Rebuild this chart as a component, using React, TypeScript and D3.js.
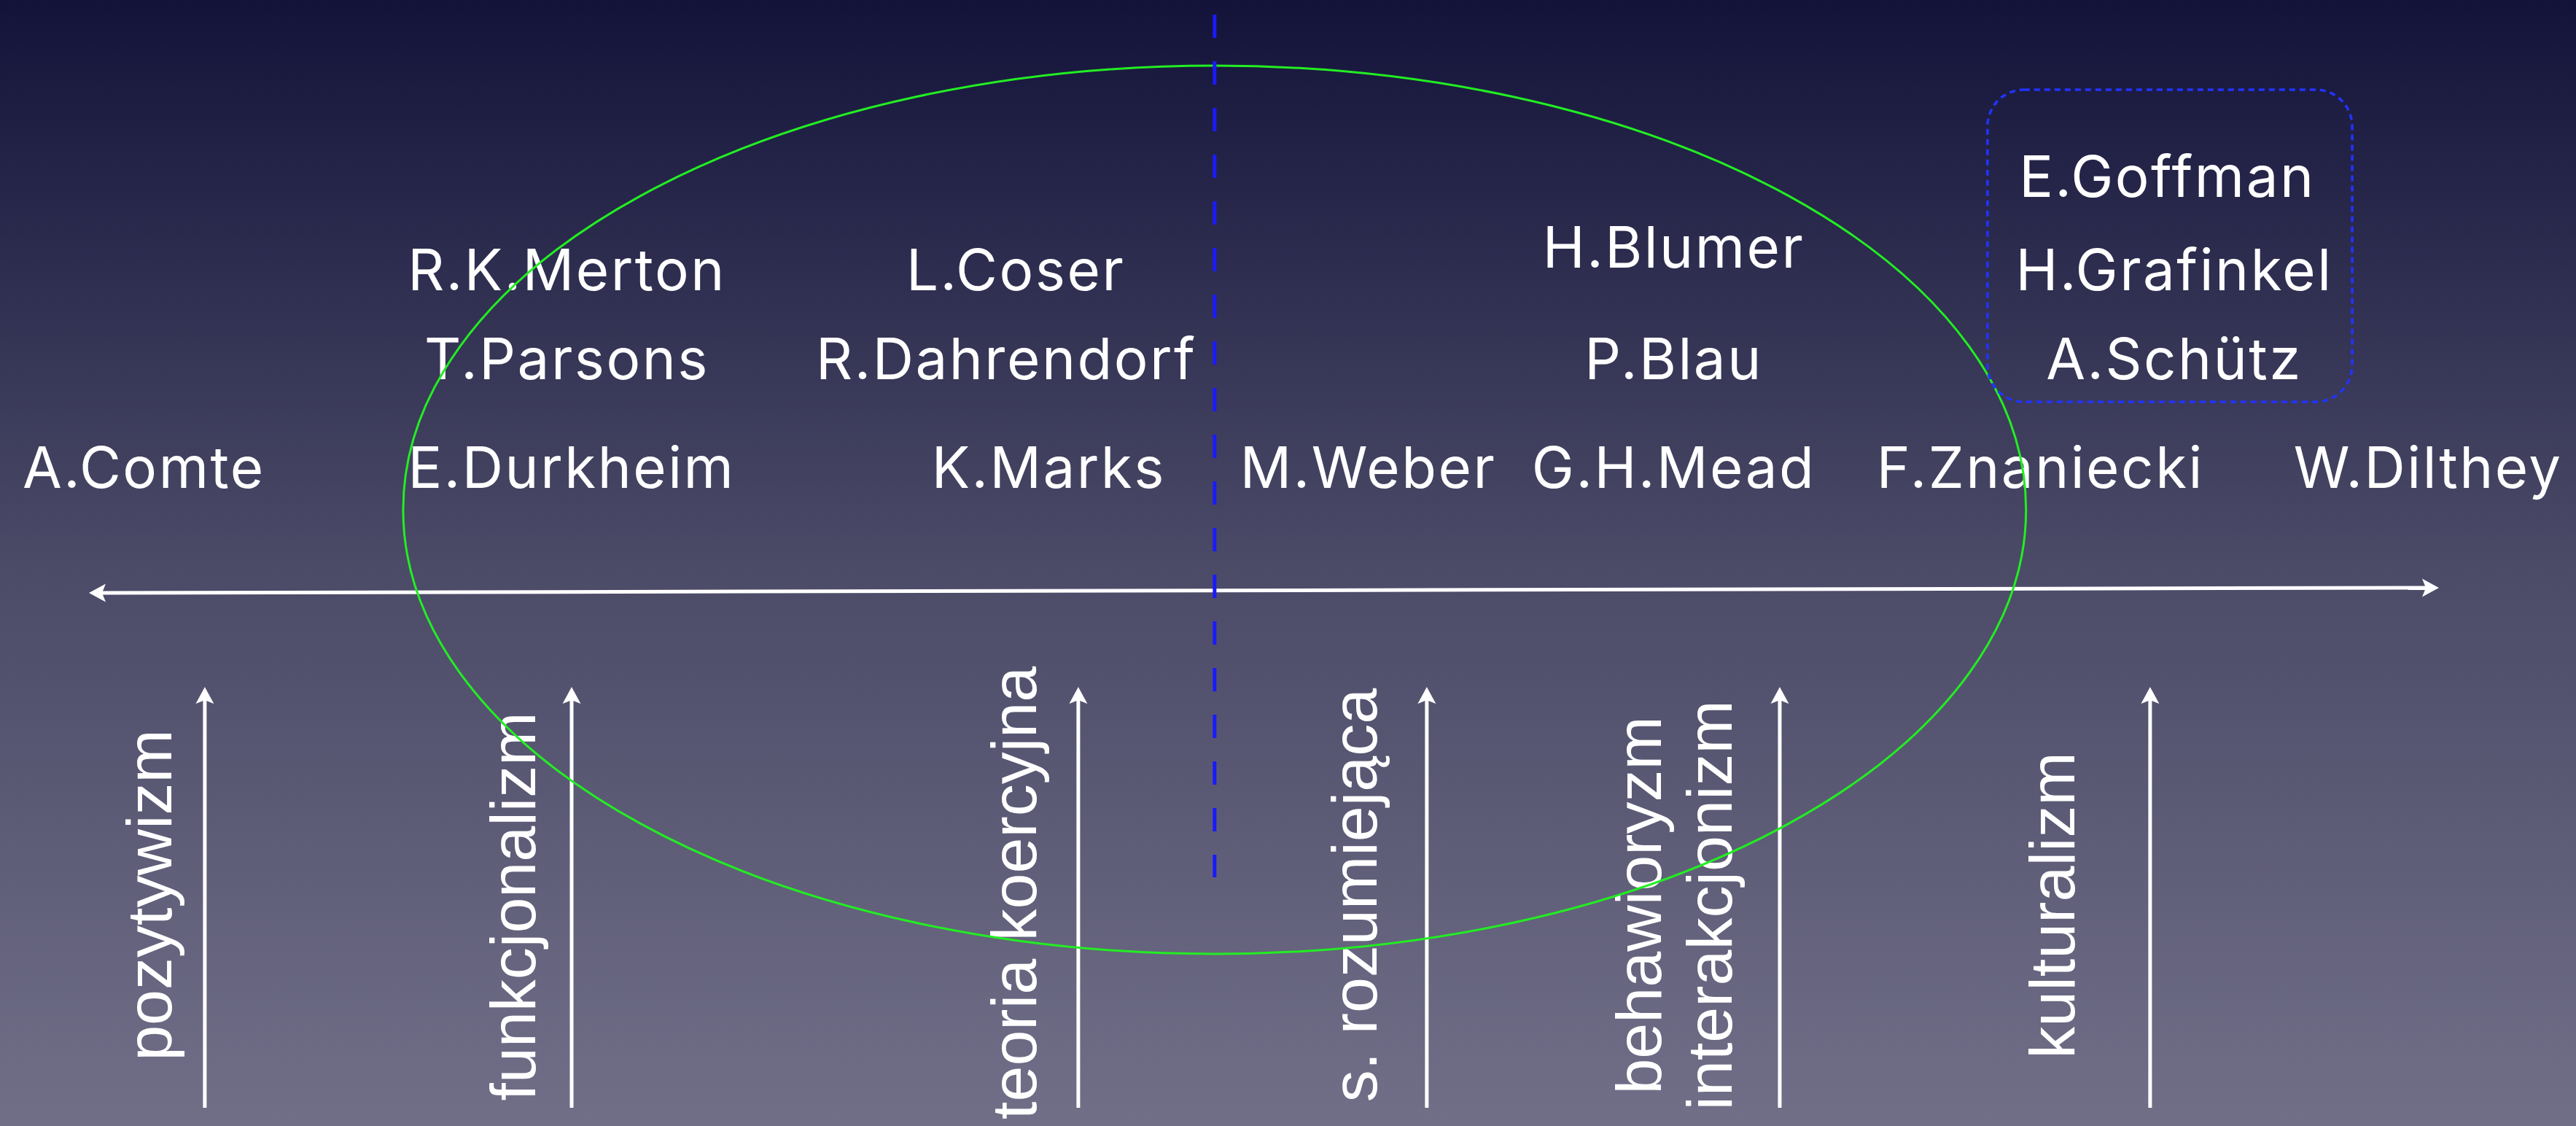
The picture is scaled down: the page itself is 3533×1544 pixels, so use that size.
import React, { useEffect } from "react";
import * as d3 from "d3";

const W = 3533;
const H = 1544;

// Sociologists: name, position along the spectrum axis (0..100), height level (0..100 of chart height)
const names = ["A.Comte", "E.Durkheim", "R.K.Merton", "T.Parsons", "L.Coser", "R.Dahrendorf", "K.Marks", "M.Weber", "G.H.Mead", "P.Blau", "H.Blumer", "F.Znaniecki", "W.Dilthey", "A.Schütz", "H.Grafinkel", "E.Goffman"];
const namePos = [2.3, 20.5, 20.3, 20.3, 39.4, 39.0, 40.8, 54.4, 67.4, 67.4, 67.4, 83.0, 99.5, 88.7, 88.7, 88.4];
const nameLevel = [56.7, 56.7, 74.2, 66.3, 74.2, 66.3, 56.7, 56.7, 56.7, 66.3, 76.2, 56.7, 56.7, 66.3, 74.2, 82.5];

// Schools (rotated labels)
const schools = ["pozytywizm", "funkcjonalizm", "teoria koercyjna", "s. rozumiejąca", "behawioryzm", "interakcjonizm", "kulturalizm"];
const schoolPos = [3.5, 19.0, 40.3, 54.8, 66.9, 69.9, 84.5];
const schoolLevel = [20.5, 19.5, 20.7, 20.5, 19.6, 19.6, 19.6];

// Upward arrows
const arrowPos = [4.93, 20.54, 42.1, 56.93, 71.95, 87.71];

export default function App() {
  useEffect(() => {
    document.body.style.margin = "0";
    document.body.style.overflow = "hidden";
  }, []);

  const x = d3.scaleLinear().domain([0, 100]).range([122, 3345]);
  const y = d3.scaleLinear().domain([0, 100]).range([H, 0]);

  // axis endpoints
  const axL = { x: x(0), y: 813 };
  const axR = { x: x(100), y: 806 };
  const ang = Math.atan2(axR.y - axL.y, axR.x - axL.x) * 180 / Math.PI;

  const head = "M0,0 L-23,-12.5 L-18,0 L-23,12.5 Z";

  const arrowTop = 942;
  const arrowBottom = 1519;

  const ellCx = x(47.9);
  const ellRx = x(47.9 + 34.53) - x(47.9);
  const ellCy = 699;
  const ellRy = 609;

  const boxX0 = x(80.79), boxX1 = x(96.31);
  const ls = 2.5;

  return (
    <svg width={W} height={H} style={{ position: "fixed", left: 0, top: 0, display: "block" }}>
      <defs>
        <linearGradient id="bg" x1="0" y1="0" x2="0" y2="1">
          <stop offset="0" stopColor="#13133a" />
          <stop offset="0.5" stopColor="#4b4a67" />
          <stop offset="1" stopColor="#716f88" />
        </linearGradient>
      </defs>
      <rect x={0} y={0} width={W} height={H} fill="url(#bg)" />

      {/* horizontal axis with arrowheads */}
      <line
        x1={axL.x + 18} y1={axL.y} x2={axR.x - 18} y2={axR.y}
        stroke="#fff" strokeWidth={5}
      />
      <path d={head} fill="#fff" transform={`translate(${axR.x},${axR.y}) rotate(${ang})`} />
      <path d={head} fill="#fff" transform={`translate(${axL.x},${axL.y}) rotate(${ang + 180})`} />

      {/* upward arrows */}
      {arrowPos.map((p, i) => (
        <g key={"a" + i}>
          <line x1={x(p)} x2={x(p)} y1={arrowTop + 18} y2={arrowBottom} stroke="#fff" strokeWidth={5} />
          <path d={head} fill="#fff" transform={`translate(${x(p)},${arrowTop}) rotate(-90)`} />
        </g>
      ))}

      {/* rotated school labels */}
      {schools.map((s, i) => (
        <text
          key={"s" + i}
          transform={`translate(${x(schoolPos[i])},${y(schoolLevel[i])}) rotate(-90)`}
          textAnchor="middle"
          fill="#fff"
          fontFamily="'Liberation Sans', Arial, sans-serif"
          fontSize={88}
        >
          {s}
        </text>
      ))}

      {/* sociologist names */}
      {names.map((n, i) => (
        <text
          key={"n" + i}
          x={x(namePos[i]) + ls / 2}
          y={y(nameLevel[i])}
          textAnchor="middle"
          fill="#fff"
          fontFamily="Inter, Roboto, sans-serif"
          fontSize={78}
          letterSpacing={ls}
        >
          {n}
        </text>
      ))}

      {/* green ellipse */}
      <ellipse cx={ellCx} cy={ellCy} rx={ellRx} ry={ellRy} fill="none" stroke="#22ee22" strokeWidth={3} />

      {/* dashed blue divider */}
      <line x1={ellCx} x2={ellCx} y1={20} y2={1203} stroke="#1a1aff" strokeWidth={5} strokeDasharray="32 32" />

      {/* dotted rounded box */}
      <rect
        x={boxX0} y={123} width={boxX1 - boxX0} height={551 - 123}
        rx={50} ry={50}
        fill="none" stroke="#2233ff" strokeWidth={3.5} strokeDasharray="8 6"
      />
    </svg>
  );
}
